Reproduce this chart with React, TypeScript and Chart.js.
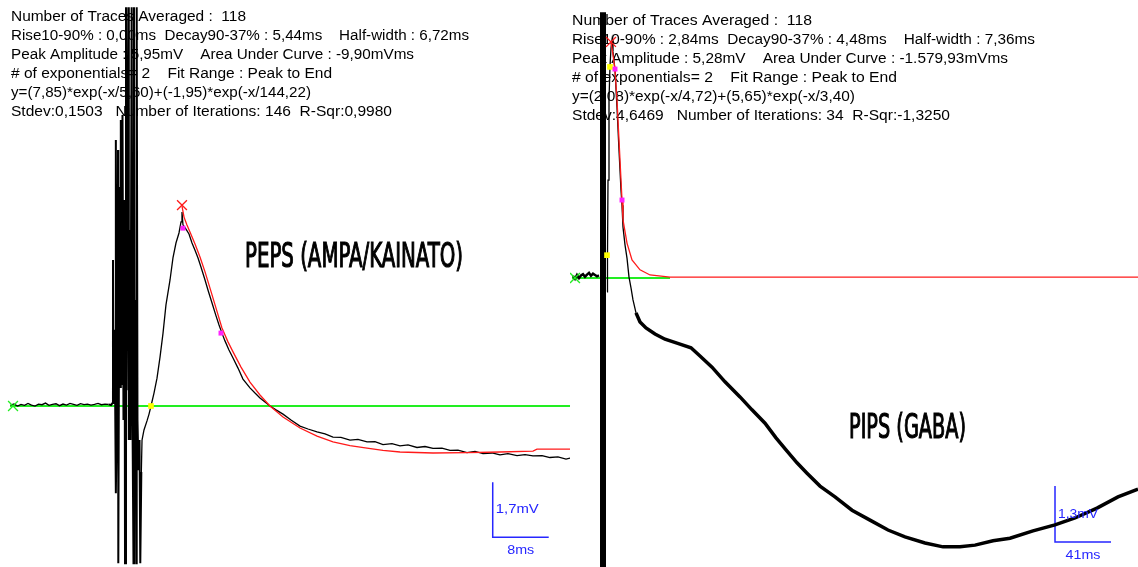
import React, { useEffect, useRef } from "react";
import { Chart, registerables } from "chart.js";

Chart.register(...registerables);

// ================= LEFT PANEL : PEPS (AMPA/KAINATO) =================
// time in ms, membrane potential in mV (relative to baseline)
const pepsBaseT = [1.5, 2.0, 2.5, 3.0, 3.5, 4.0, 4.5, 5.0, 5.5, 6.0, 6.5, 7.0, 7.5, 8.0, 8.5, 9.0, 9.5, 10.0, 10.5, 11.0, 11.5, 12.0, 12.5, 13.0, 13.5, 14.0, 14.5, 15.0, 15.5];
const pepsBaseV = [0.03, 0.06, 0.0, 0.05, 0.02, 0.08, 0.03, 0.0, 0.06, 0.04, 0.09, 0.02, 0.05, 0.07, 0.01, 0.06, 0.03, 0.08, 0.05, 0.02, 0.07, 0.04, 0.06, 0.03, 0.05, 0.08, 0.04, 0.06, 0.05];

const pepsArtifactT = [15.86, 16.07, 16.14, 16.21, 16.36, 16.43, 16.53, 16.57, 16.71, 16.86, 16.90, 17.07, 17.17, 17.26, 17.36, 17.50, 17.64, 17.79, 17.86, 18.00, 18.07, 18.33, 18.40, 18.50, 18.64, 18.81, 18.93, 19.07, 19.14, 19.24, 19.33, 19.46, 19.53, 19.64, 19.79, 19.93, 20.04, 20.19];
const pepsArtifactV = [0.03, 0.09, 4.51, 0.06, 2.35, 0.86, 8.21, -2.69, 0.19, 7.90, -4.85, 6.76, 0.59, 8.83, 0.65, 8.98, -0.43, 6.36, -4.85, 12.31, 0.49, 12.31, -1.05, 5.43, -1.05, 12.31, -0.43, -4.85, 12.31, -1.98, 3.27, -4.85, 12.31, -0.43, -1.98, -1.05, -4.85, -2.04];

const pepsResponseT = [20.29, 20.57, 21.0, 21.29, 21.57, 22.0, 22.43, 22.86, 23.29, 23.71, 24.29, 24.71, 25.14, 25.57, 25.86, 26.0, 26.14, 26.57, 27.0, 27.43, 27.86, 28.29, 28.71, 29.29, 29.71, 30.29, 30.86, 31.29, 31.71, 32.14, 32.71, 33.29, 34.0, 34.71, 35.71, 36.43, 37.14, 37.86, 38.57, 39.43, 40.43, 41.57, 42.86, 44.0, 45.29, 46.43, 47.57, 48.71, 50.0, 51.14, 52.43, 53.57, 54.71, 56.0, 57.14, 58.29, 59.57, 60.71, 61.86, 63.14, 64.29, 65.43, 66.71, 67.86, 69.0, 70.29, 71.43, 72.57, 73.86, 75.0, 76.14, 77.43, 78.57, 79.71, 80.86, 81.57];
const pepsResponseV = [-1.05, -0.74, -0.46, -0.25, 0.0, 0.40, 0.86, 1.51, 2.25, 3.12, 3.89, 4.57, 5.03, 5.34, 5.68, 5.99, 5.59, 5.46, 5.31, 5.03, 4.81, 4.57, 4.29, 3.89, 3.58, 3.18, 2.78, 2.50, 2.25, 2.01, 1.73, 1.48, 1.17, 0.83, 0.56, 0.40, 0.25, 0.12, 0.0, -0.12, -0.25, -0.43, -0.62, -0.71, -0.80, -0.86, -0.96, -0.97, -1.05, -1.03, -1.11, -1.10, -1.19, -1.16, -1.23, -1.20, -1.28, -1.25, -1.31, -1.30, -1.37, -1.36, -1.44, -1.40, -1.47, -1.45, -1.51, -1.47, -1.53, -1.50, -1.54, -1.53, -1.59, -1.57, -1.64, -1.60];

const pepsFitT = [26.0, 26.29, 26.71, 27.14, 27.86, 28.57, 29.29, 30.0, 30.86, 31.71, 32.57, 33.29, 34.43, 35.71, 37.14, 38.57, 40.43, 42.86, 45.29, 47.57, 50.0, 52.43, 54.71, 57.14, 61.86, 66.71, 71.43, 76.14, 76.71, 81.43];
const pepsFitV = [6.17, 5.83, 5.59, 5.37, 5.0, 4.60, 4.14, 3.64, 3.02, 2.41, 1.98, 1.67, 1.20, 0.74, 0.34, 0.0, -0.34, -0.68, -0.93, -1.11, -1.22, -1.30, -1.37, -1.42, -1.45, -1.44, -1.42, -1.39, -1.33, -1.33];

const pepsPeakT = [26.0];
const pepsPeakV = [6.2];
const pepsMagentaT = [26.14, 31.57];
const pepsMagentaV = [5.49, 2.25];
const pepsYellowT = [21.57];
const pepsYellowV = [0.0];
const pepsStartT = [1.86];
const pepsStartV = [0.0];
const pepsGreenT = [1.43, 81.43];
const pepsGreenV = [0, 0];
const pepsBarMs = 8;
const pepsBarMv = 1.7;
const pepsBarT0 = 70.39;
const pepsBarV0 = -2.35;

const pepsInfo = [
  "Number of Traces Averaged :  118",
  "Rise10-90% : 0,00ms  Decay90-37% : 5,44ms    Half-width : 6,72ms",
  "Peak Amplitude : 5,95mV    Area Under Curve : -9,90mVms",
  "# of exponentials= 2    Fit Range : Peak to End",
  "y=(7,85)*exp(-x/5,60)+(-1,95)*exp(-x/144,22)",
  "Stdev:0,1503   Number of Iterations: 146  R-Sqr:0,9980",
];
const pepsLabel = "PEPS (AMPA/KAINATO)";

// ================= RIGHT PANEL : PIPS (GABA) =================
const pipsBaseT = [2.20, 3.66, 5.12, 6.59, 8.05, 9.52, 10.98, 12.45, 13.91, 15.37, 16.84, 18.30, 19.77, 21.23];
const pipsBaseV = [0.05, -0.02, 0.07, 0.0, 0.06, 0.09, 0.03, 0.08, 0.12, 0.05, 0.10, 0.07, 0.04, 0.06];
const pipsArtifactT = [24.16, 24.16];
const pipsArtifactV = [6.17, -6.71];
const pipsFastT = [27.09, 27.45, 27.82, 28.55, 29.28, 30.02, 30.75, 31.48, 32.94, 34.41, 35.87, 37.34, 38.07, 38.80, 40.27, 41.73, 43.20, 44.66, 46.12, 48.32, 51.25];
const pipsFastV = [-0.32, 0.53, 2.27, 4.13, 4.92, 5.34, 5.52, 5.25, 4.83, 3.95, 2.97, 2.04, 1.69, 1.18, 0.77, 0.46, 0.02, -0.23, -0.51, -0.81, -1.02];
const pipsSlowT = [48.32, 51.25, 55.64, 62.23, 69.55, 78.33, 88.58, 95.17, 103.96, 113.48, 124.46, 133.24, 142.76, 150.81, 158.13, 166.19, 173.51, 183.03, 194.01, 206.45, 219.63, 232.81, 245.25, 259.90, 273.07, 285.52, 296.50, 309.68, 322.12, 338.96, 355.07, 369.71, 385.81, 401.19, 415.83];
const pipsSlowV = [-0.81, -1.02, -1.16, -1.30, -1.42, -1.51, -1.62, -1.81, -2.07, -2.41, -2.76, -3.06, -3.37, -3.71, -3.99, -4.29, -4.53, -4.83, -5.08, -5.39, -5.62, -5.85, -6.01, -6.15, -6.24, -6.24, -6.20, -6.10, -6.04, -5.87, -5.73, -5.57, -5.34, -5.08, -4.90];
const pipsFitT = [30.02, 31.48, 32.94, 34.41, 35.87, 37.34, 38.07, 38.80, 41.73, 45.39, 51.25, 58.57, 73.21, 415.83];
const pipsFitV = [5.48, 5.18, 4.83, 4.13, 3.20, 2.27, 1.81, 1.35, 0.81, 0.42, 0.19, 0.07, 0.02, 0.02];
const pipsPeakT = [30.02];
const pipsPeakV = [5.48];
const pipsMagentaT = [32.94, 38.07];
const pipsMagentaV = [4.85, 1.81];
const pipsYellowT = [29.28, 27.09];
const pipsYellowV = [4.9, 0.53];
const pipsStartT = [3.66];
const pipsStartV = [0.0];
const pipsGreenT = [1.46, 73.21];
const pipsGreenV = [0, 0];
const pipsBarMs = 41;
const pipsBarMv = 1.3;
const pipsBarT0 = 355.07;
const pipsBarV0 = -4.83;

const pipsInfo = [
  "Number of Traces Averaged :  118",
  "Rise10-90% : 2,84ms  Decay90-37% : 4,48ms    Half-width : 7,36ms",
  "Peak Amplitude : 5,28mV    Area Under Curve : -1.579,93mVms",
  "# of exponentials= 2    Fit Range : Peak to End",
  "y=(2,08)*exp(-x/4,72)+(5,65)*exp(-x/3,40)",
  "Stdev:4,6469   Number of Iterations: 34  R-Sqr:-1,3250",
];
const pipsLabel = "PIPS (GABA)";

// ================= styling / layout =================
const H = 567;
const INFO_FONT = '14px "Liberation Sans", Arial, sans-serif';
const LABEL_FONT = '34px "DejaVu Sans Condensed", "Liberation Sans Narrow", sans-serif';
const BAR_FONT = '13px "Liberation Sans", Arial, sans-serif';
const BLUE = "#2626ff";
const RED = "#ff1a1a";
const GREEN = "#22ee22";
const MAGENTA = "#ff22ff";
const YELLOW = "#ffff00";

type PanelSpec = {
  left: number;
  width: number;
  xMax: number;
  yMin: number;
  yMax: number;
  info: string[];
  infoX: number;
  infoY: number[];
  infoW: number[];
  label: string;
  labelX: number;
  labelY: number;
  labelW: number;
  bar: { t0: number; v0: number; ms: number; mv: number; ampW: number; durW: number };
  datasets: any[];
};

const xy = (t: number[], v: number[]) => t.map((x, i) => ({ x, y: v[i] }));
// joins a segment to the last point of the previous one so the trace stays continuous
const joined = (prevT: number[], prevV: number[], t: number[], v: number[]) =>
  xy([prevT[prevT.length - 1], ...t], [prevV[prevV.length - 1], ...v]);

function fitText(
  ctx: CanvasRenderingContext2D,
  s: string,
  x: number,
  y: number,
  w: number,
  strokeW = 0
) {
  const m = ctx.measureText(s).width || 1;
  ctx.save();
  ctx.translate(x, y);
  ctx.scale(w / m, 1);
  ctx.fillText(s, 0, 0);
  if (strokeW > 0) {
    ctx.lineWidth = strokeW;
    ctx.strokeStyle = ctx.fillStyle as string;
    ctx.lineJoin = "miter";
    ctx.strokeText(s, 0, 0);
  }
  ctx.restore();
}

function lineDs(data: any[], color: string, width: number) {
  return {
    data,
    borderColor: color,
    borderWidth: width,
    pointRadius: 0,
    tension: 0,
    fill: false,
    borderJoinStyle: "miter",
  };
}

function markerDs(data: any[], style: string, color: string, radius: number) {
  const filled = style === "rect";
  return {
    data,
    showLine: false,
    pointStyle: style,
    pointRadius: radius,
    pointBorderColor: color,
    pointBackgroundColor: color,
    pointBorderWidth: filled ? 0 : 1.3,
    borderColor: color,
  };
}

function barData(b: { t0: number; v0: number; ms: number; mv: number }) {
  return [
    { x: b.t0, y: b.v0 },
    { x: b.t0, y: b.v0 - b.mv },
    { x: b.t0 + b.ms, y: b.v0 - b.mv },
  ];
}

const pepsSpec: PanelSpec = {
  left: 0,
  width: 570,
  xMax: 81.43,
  yMin: -4.969,
  yMax: 12.531,
  info: pepsInfo,
  infoX: 11,
  infoY: [17, 36, 55, 74, 93, 112],
  infoW: [235, 458, 403, 321, 300, 381],
  label: pepsLabel,
  labelX: 245,
  labelY: 267,
  labelW: 218,
  bar: { t0: pepsBarT0, v0: pepsBarV0, ms: pepsBarMs, mv: pepsBarMv, ampW: 43, durW: 27 },
  datasets: [
    markerDs(xy(pepsPeakT, pepsPeakV), "crossRot", RED, 7),
    markerDs(xy(pepsMagentaT, pepsMagentaV), "rect", MAGENTA, 3.5),
    markerDs(xy(pepsYellowT, pepsYellowV), "rect", YELLOW, 4),
    markerDs(xy(pepsStartT, pepsStartV), "crossRot", GREEN, 7),
    lineDs(xy(pepsFitT, pepsFitV), RED, 1.3),
    lineDs(joined(pepsArtifactT, pepsArtifactV, pepsResponseT, pepsResponseV), "#000000", 1.3),
    lineDs(joined(pepsBaseT, pepsBaseV, pepsArtifactT, pepsArtifactV), "#000000", 2),
    lineDs(xy(pepsBaseT, pepsBaseV), "#000000", 1.3),
    lineDs(xy(pepsGreenT, pepsGreenV), GREEN, 2),
    lineDs(barData({ t0: pepsBarT0, v0: pepsBarV0, ms: pepsBarMs, mv: pepsBarMv }), BLUE, 1.5),
  ],
};

const pipsSpec: PanelSpec = {
  left: 570,
  width: 568,
  xMax: 415.83,
  yMin: -6.708,
  yMax: 6.453,
  info: pipsInfo,
  infoX: 2,
  infoY: [21, 40, 59, 78, 97, 116],
  infoW: [240, 463, 436, 325, 283, 378],
  label: pipsLabel,
  labelX: 279,
  labelY: 438,
  labelW: 117,
  bar: { t0: pipsBarT0, v0: pipsBarV0, ms: pipsBarMs, mv: pipsBarMv, ampW: 40, durW: 35 },
  datasets: [
    markerDs(xy(pipsPeakT, pipsPeakV), "crossRot", RED, 7),
    markerDs(xy(pipsMagentaT, pipsMagentaV), "rect", MAGENTA, 3.5),
    markerDs(xy(pipsYellowT, pipsYellowV), "rect", YELLOW, 4),
    markerDs(xy(pipsStartT, pipsStartV), "crossRot", GREEN, 7),
    lineDs(xy(pipsFitT, pipsFitV), RED, 1.3),
    lineDs(xy(pipsArtifactT, pipsArtifactV), "#000000", 6),
    lineDs(xy(pipsFastT, pipsFastV), "#000000", 1.3),
    lineDs(xy(pipsSlowT, pipsSlowV), "#000000", 3.5),
    lineDs(xy(pipsBaseT, pipsBaseV), "#000000", 2.5),
    lineDs(xy(pipsGreenT, pipsGreenV), GREEN, 2),
    lineDs(barData({ t0: pipsBarT0, v0: pipsBarV0, ms: pipsBarMs, mv: pipsBarMv }), BLUE, 1.5),
  ],
};

function makeOverlay(p: PanelSpec) {
  return {
    id: "panelOverlay",
    beforeDatasetsDraw(chart: any) {
      const ctx: CanvasRenderingContext2D = chart.ctx;
      ctx.save();
      ctx.fillStyle = "#000000";
      ctx.textBaseline = "middle";
      ctx.textAlign = "left";
      ctx.font = INFO_FONT;
      p.info.forEach((line, i) => fitText(ctx, line, p.infoX, p.infoY[i], p.infoW[i]));
      ctx.font = LABEL_FONT;
      ctx.textBaseline = "alphabetic";
      fitText(ctx, p.label, p.labelX, p.labelY, p.labelW, 1.2);
      ctx.restore();
    },
    afterDatasetsDraw(chart: any) {
      const ctx: CanvasRenderingContext2D = chart.ctx;
      const xs = chart.scales.x;
      const ys = chart.scales.y;
      const b = p.bar;
      const bx = xs.getPixelForValue(b.t0);
      const yMid = ys.getPixelForValue(b.v0 - b.mv / 2);
      const yBot = ys.getPixelForValue(b.v0 - b.mv);
      const xMid = xs.getPixelForValue(b.t0 + b.ms / 2);
      ctx.save();
      ctx.fillStyle = BLUE;
      ctx.font = BAR_FONT;
      ctx.textAlign = "left";
      ctx.textBaseline = "middle";
      const amp = b.mv.toFixed(1).replace(".", ",") + "mV";
      const dur = b.ms + "ms";
      fitText(ctx, amp, bx + 3, yMid, b.ampW);
      fitText(ctx, dur, xMid - b.durW / 2, yBot + 13, b.durW);
      ctx.restore();
    },
  };
}

function Panel({ spec }: { spec: PanelSpec }) {
  const ref = useRef<HTMLCanvasElement>(null);
  useEffect(() => {
    const canvas = ref.current;
    if (!canvas) return;
    const chart = new Chart(canvas, {
      type: "line",
      data: { datasets: spec.datasets },
      options: {
        animation: false,
        responsive: false,
        maintainAspectRatio: false,
        events: [],
        layout: { padding: 0, autoPadding: false },
        plugins: {
          legend: { display: false },
          tooltip: { enabled: false },
          title: { display: false },
        },
        scales: {
          x: { type: "linear", display: false, min: 0, max: spec.xMax },
          y: { type: "linear", display: false, min: spec.yMin, max: spec.yMax },
        },
      },
      plugins: [makeOverlay(spec)],
    } as any);
    return () => chart.destroy();
  }, [spec]);
  return (
    <canvas
      ref={ref}
      width={spec.width}
      height={H}
      style={{ position: "absolute", left: spec.left, top: 0, width: spec.width, height: H }}
    />
  );
}

export default function App() {
  return (
    <div
      style={{
        position: "fixed",
        left: 0,
        top: 0,
        width: 1138,
        height: H,
        background: "#ffffff",
        overflow: "hidden",
      }}
    >
      <Panel spec={pepsSpec} />
      <Panel spec={pipsSpec} />
    </div>
  );
}
